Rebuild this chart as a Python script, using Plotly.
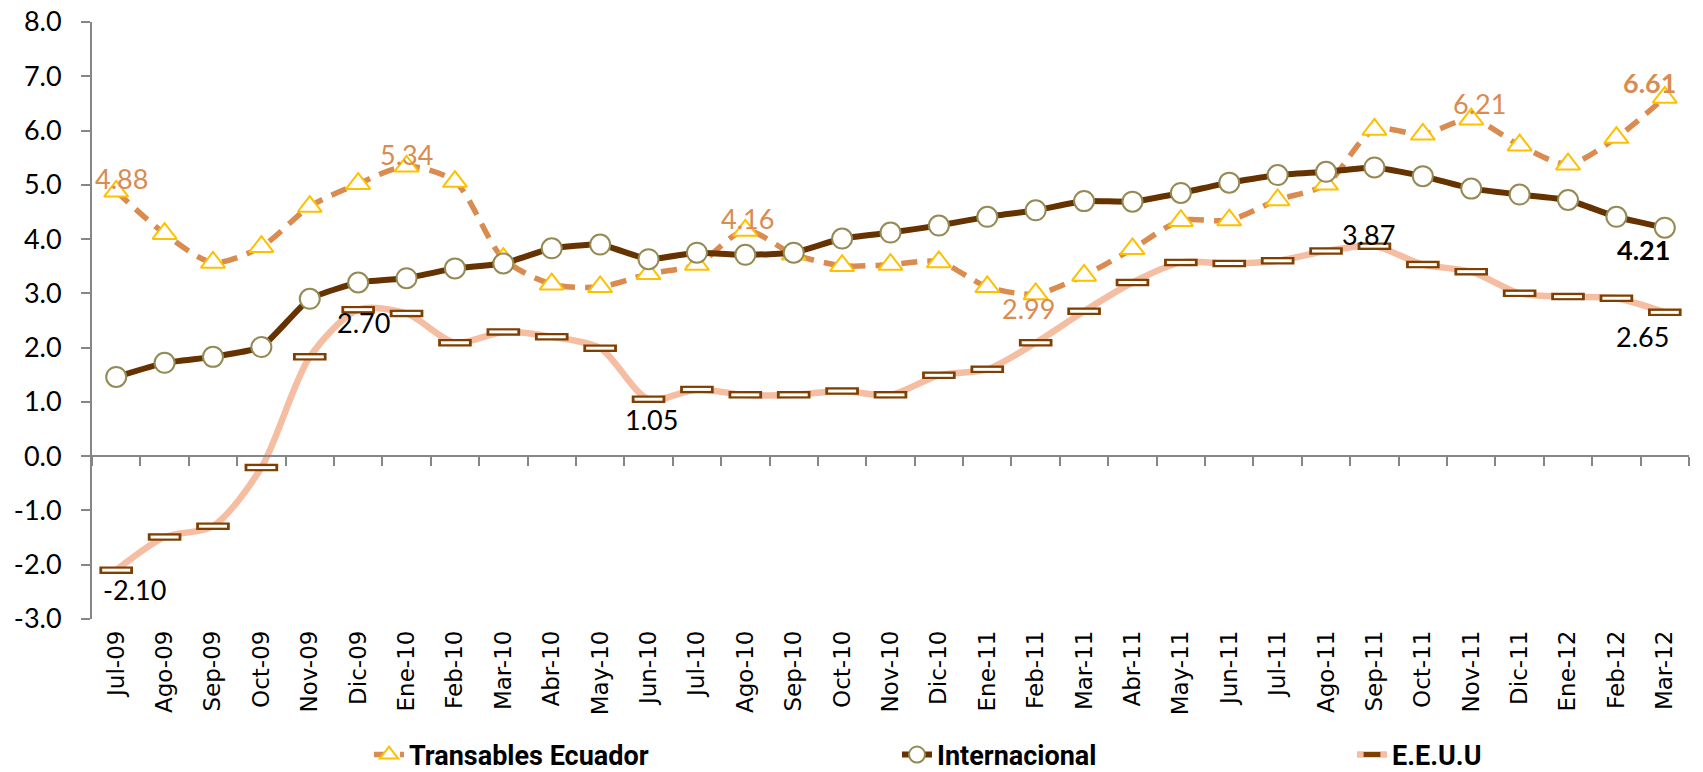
import plotly.graph_objects as go

months = ["Jul-09", "Ago-09", "Sep-09", "Oct-09", "Nov-09", "Dic-09", "Ene-10", "Feb-10",
          "Mar-10", "Abr-10", "May-10", "Jun-10", "Jul-10", "Ago-10", "Sep-10", "Oct-10",
          "Nov-10", "Dic-10", "Ene-11", "Feb-11", "Mar-11", "Abr-11", "May-11", "Jun-11",
          "Jul-11", "Ago-11", "Sep-11", "Oct-11", "Nov-11", "Dic-11", "Ene-12", "Feb-12",
          "Mar-12"]

transables = [4.88, 4.10, 3.57, 3.86, 4.60, 5.02, 5.34, 5.06, 3.64, 3.17, 3.12, 3.36,
              3.53, 4.16, 3.72, 3.51, 3.53, 3.58, 3.12, 2.99, 3.33, 3.82, 4.34, 4.35,
              4.72, 5.01, 6.02, 5.93, 6.21, 5.73, 5.38, 5.87, 6.61]

internacional = [1.46, 1.72, 1.83, 2.01, 2.90, 3.20, 3.28, 3.46, 3.55, 3.83, 3.90, 3.63,
                 3.75, 3.71, 3.75, 4.01, 4.12, 4.25, 4.41, 4.53, 4.70, 4.69, 4.85, 5.04,
                 5.18, 5.24, 5.32, 5.16, 4.93, 4.82, 4.72, 4.41, 4.21]

eeuu = [-2.10, -1.49, -1.29, -0.21, 1.83, 2.70, 2.63, 2.09, 2.29, 2.20, 1.99, 1.05,
        1.23, 1.13, 1.13, 1.20, 1.13, 1.49, 1.60, 2.09, 2.67, 3.20, 3.57, 3.55,
        3.60, 3.78, 3.87, 3.53, 3.40, 3.00, 2.94, 2.91, 2.65]

y_ticks = [-3, -2, -1, 0, 1, 2, 3, 4, 5, 6, 7, 8]
y_ticktext = [f"{v:.1f}" for v in y_ticks]

# labelled points: index -> (xshift, yshift, bold)
trans_lbl = {0: (5, 13, False), 6: (0, 12, False), 13: (2, 12, False),
             19: (-7, -15, False), 28: (8, 16, False), 32: (-15, 15, True)}
inter_lbl = {32: (-21, -22, True)}
eeuu_lbl = {0: (18, -19, False), 5: (5, -13, False), 11: (3, -20, False),
            26: (-6, 12, False), 32: (-22, -24, False)}

FONT = "Lato"
ORANGE = "#D98B50"
BROWN = "#663300"
SALMON = "#F5BEA2"
LBL = 27

fig = go.Figure()

fig.add_trace(go.Scatter(
    x=months, y=eeuu, name="E.E.U.U", mode="lines+markers", showlegend=False,
    line=dict(color=SALMON, width=6.5, shape="spline", smoothing=0.8),
    marker=dict(symbol="line-ew", size=24, line=dict(color="#7F3F00", width=7.5)),
))
fig.add_trace(go.Scatter(
    x=months, y=eeuu, mode="markers", showlegend=False, hoverinfo="skip",
    marker=dict(symbol="line-ew", size=20, line=dict(color="white", width=3)),
))
# legend entry for E.E.U.U (no data of its own)
fig.add_trace(go.Scatter(
    x=[None], y=[None], name="E.E.U.U", mode="lines+markers", legend="legend3",
    line=dict(color=SALMON, width=6.5),
    marker=dict(symbol="line-ew", size=12, line=dict(color="#7F3F00", width=5)),
))

fig.add_trace(go.Scatter(
    x=months, y=transables, name="Transables Ecuador", mode="lines+markers", legend="legend",
    line=dict(color=ORANGE, width=5.5, dash="16px,10px", shape="spline", smoothing=0.8),
    marker=dict(symbol="triangle-up", size=21, color="white",
                line=dict(color="#FFC000", width=2)),
))

fig.add_trace(go.Scatter(
    x=months, y=internacional, name="Internacional", mode="lines+markers", legend="legend2",
    line=dict(color=BROWN, width=6, shape="spline", smoothing=0.4),
    marker=dict(symbol="circle", size=20, color="white",
                line=dict(color="#948A54", width=2)),
))

# dummy trace for the category axis drawn at y = 0
fig.add_trace(go.Scatter(x=months, y=[None] * len(months), xaxis="x2", yaxis="y",
                         showlegend=False, hoverinfo="skip", mode="markers"))


def add_labels(values, lbl, color):
    for i, (dx, dy, bold) in lbl.items():
        s = f"{values[i]:.2f}"
        fig.add_annotation(x=months[i], y=values[i], xref="x", yref="y",
                           text=f"<b>{s}</b>" if bold else s, showarrow=False,
                           xanchor="center", yanchor="middle", xshift=dx, yshift=dy,
                           font=dict(family=FONT, size=LBL, color=color))


add_labels(transables, trans_lbl, ORANGE)
add_labels(internacional, inter_lbl, "black")
add_labels(eeuu, eeuu_lbl, "black")

W, H = 1703, 772
legend_font = dict(family="Roboto", size=27, color="black", weight="bold")
leg_common = dict(orientation="h", xref="container", yref="container",
                  xanchor="left", yanchor="middle", y=17 / H, font=legend_font,
                  bgcolor="rgba(0,0,0,0)")

fig.update_layout(
    width=W, height=H,
    paper_bgcolor="white", plot_bgcolor="white",
    margin=dict(l=92, r=14, t=22, b=153),
    font=dict(family=FONT, color="black"),
    xaxis=dict(type="category", categoryarray=months, range=[-0.5, len(months) - 0.5],
               showline=False, ticks="", showgrid=False, zeroline=False, automargin=False,
               tickangle=-90, ticklabelstandoff=6, ticklabeloverflow="allow",
               tickfont=dict(family="DejaVu Sans", size=23, color="black")),
    xaxis2=dict(type="category", categoryarray=months, range=[-0.5, len(months) - 0.5],
                overlaying="x", anchor="free", position=3 / 11, side="bottom",
                showline=True, linecolor="#868686", linewidth=2, automargin=False,
                ticks="outside", ticklen=9, tickcolor="#868686", tickwidth=2,
                tickson="boundaries", showticklabels=False, showgrid=False, zeroline=False),
    yaxis=dict(range=[-3, 8], tickvals=y_ticks, ticktext=y_ticktext,
               showline=True, linecolor="#868686", linewidth=2, automargin=False,
               ticks="outside", ticklen=9, tickcolor="#868686", tickwidth=2,
               ticklabelstandoff=14, ticklabeloverflow="allow",
               showgrid=False, zeroline=False,
               tickfont=dict(family=FONT, size=27, color="black")),
    legend=dict(x=369 / W, **leg_common),
    legend2=dict(x=897 / W, **leg_common),
    legend3=dict(x=1352 / W, **leg_common),
    showlegend=True,
)

fig.write_html("out.html",
               config={"displayModeBar": False},
               post_script="document.body.style.margin='0px';"
                           "document.body.style.overflow='hidden';")
